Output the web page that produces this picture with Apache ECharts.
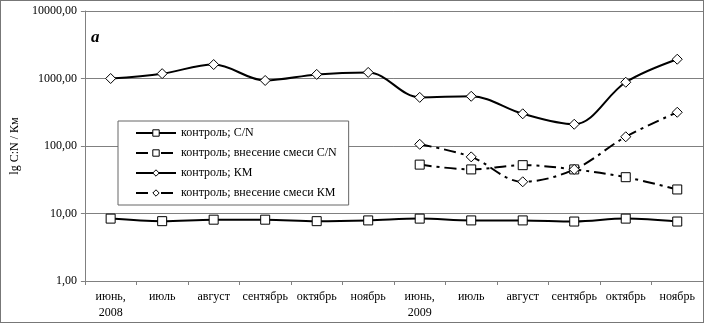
<!DOCTYPE html>
<html>
<head>
<meta charset="utf-8">
<script src="https://cdn.jsdelivr.net/npm/echarts@6/dist/echarts.min.js"></script>
<style>
  body { margin: 0; background: #fff; }
  #main { width: 702px; height: 321px; border: 1px solid #777; }
</style>
</head>
<body>
<div id="main"></div>
<script>
let months = ["июнь,\n2008", "июль", "август", "сентябрь", "октябрь", "ноябрь",
    "июнь,\n2009", "июль", "август", "сентябрь", "октябрь", "ноябрь"];
let cnControl = [8.4, 7.7, 8.1, 8.1, 7.7, 7.9, 8.4, 7.9, 7.9, 7.6, 8.4, 7.6];
let cnMix = [null, null, null, null, null, null, 53, 45, 52, 45, 34.5, 22.7];
let kmControl = [1000, 1180, 1610, 935, 1150, 1230, 525, 545, 300, 210, 880, 1930];
let kmMix = [null, null, null, null, null, null, 106, 69, 29.5, 45, 137, 316];
let names = ["контроль; C/N", "контроль; внесение смеси C/N", "контроль; КМ", "контроль; внесение смеси КМ"];
let yTicks = [1, 10, 100, 1000, 10000];

let font = "'Liberation Serif', 'Times New Roman', serif";
let diamond = "path://M0,-1L1,0L0,1L-1,0Z";
let dashDot = [12, 5, 3, 5];

let dom = document.getElementById("main");
let myChart = echarts.init(dom, null, { renderer: "canvas" });

function makeSeries(name, data, symbol, dashed) {
    return {
        name: name,
        type: "line",
        data: data,
        smooth: 0.35,
        connectNulls: false,
        symbol: symbol,
        symbolSize: symbol === "rect" ? 9 : 10,
        showAllSymbol: true,
        lineStyle: { color: "#000", width: 2, type: dashed ? dashDot : "solid" },
        itemStyle: { color: "#fff", borderColor: "#000", borderWidth: 1 },
        z: 3,
    };
}

let legendIcon = { color: "#fff", borderColor: "#000", borderWidth: 1 };

let option = {
    animation: false,
    textStyle: { fontFamily: font },
    grid: { left: 66, right: 0, top: 10, bottom: 41 },
    graphic: [{
        type: "text",
        left: 90,
        top: 28,
        style: { text: "a", font: "bold italic 17px " + font, fill: "#000" },
    }],
    legend: {
        data: names.map(function (n) { return { name: n, itemStyle: legendIcon }; }),
        orient: "vertical",
        left: 117,
        top: 120,
        itemWidth: 40,
        itemHeight: 8,
        itemGap: 8,
        padding: [6, 12, 6, 17],
        borderColor: "#666",
        borderWidth: 1,
        backgroundColor: "#fff",
        textStyle: { fontFamily: font, fontSize: 12, color: "#000" },
    },
    xAxis: {
        type: "category",
        data: months,
        boundaryGap: true,
        axisLine: { lineStyle: { color: "#808080", width: 1 } },
        axisTick: { show: true, length: 4, inside: false, lineStyle: { color: "#808080" } },
        axisLabel: { interval: 0, color: "#000", fontFamily: font, fontSize: 12, lineHeight: 16, margin: 8 },
    },
    yAxis: {
        type: "log",
        logBase: 10,
        min: 1,
        max: 10000,
        name: "lg C:N / Км",
        nameLocation: "middle",
        nameGap: 58,
        nameTextStyle: { color: "#000", fontFamily: font, fontSize: 12 },
        axisLine: { show: true, lineStyle: { color: "#808080" } },
        axisTick: { show: true, length: 4, lineStyle: { color: "#808080" } },
        axisLabel: {
            color: "#000",
            fontFamily: font,
            fontSize: 12,
            margin: 8,
            formatter: function (v) {
                let t = yTicks.find(function (k) { return Math.abs(k - v) / k < 1e-6; });
                return t === undefined ? "" : t.toFixed(2).replace(".", ",");
            },
        },
        splitLine: { show: true, lineStyle: { color: "#808080", width: 1 } },
    },
    series: [
        makeSeries(names[0], cnControl, "rect", false),
        makeSeries(names[1], cnMix, "rect", true),
        makeSeries(names[2], kmControl, diamond, false),
        makeSeries(names[3], kmMix, diamond, true),
    ],
};

myChart.setOption(option);
window.addEventListener("resize", myChart.resize);
</script>
</body>
</html>
